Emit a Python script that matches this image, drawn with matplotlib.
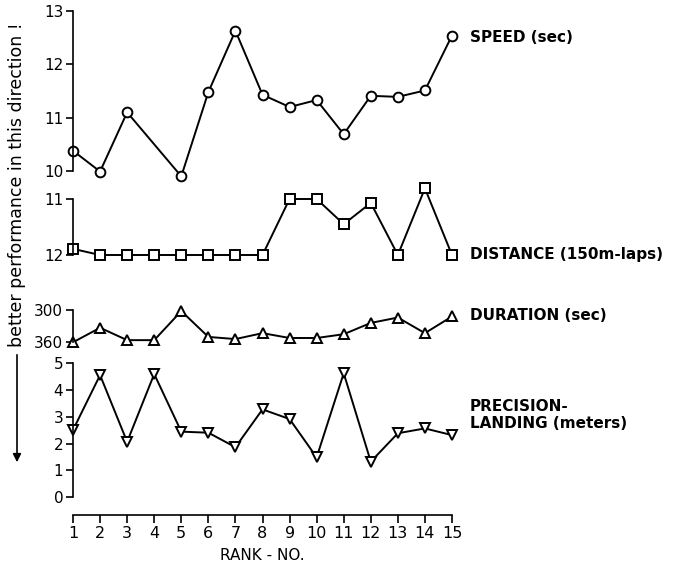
import numpy as np
import matplotlib
matplotlib.use("Agg")
import matplotlib.pyplot as plt

# ranks for each series
rank_speed = [1, 2, 3, 5, 6, 7, 8, 9, 10, 11, 12, 13, 14, 15]
speed = [10.38, 9.99, 11.1, 9.9, 11.48, 12.63, 11.43, 11.2, 11.33, 10.69, 11.41, 11.39, 11.51, 12.54]

rank_all = list(range(1, 16))
distance = [11.89, 12.0, 12.0, 12.0, 12.0, 12.0, 12.0, 12.0, 11.0, 11.0, 11.45, 11.07, 12.0, 10.81, 12.0]
duration = [360, 333, 356, 356, 302, 350, 354, 343, 352, 352, 345, 324, 314, 343, 312]
precision = [2.51, 4.56, 2.07, 4.6, 2.45, 2.41, 1.87, 3.28, 2.92, 1.49, 4.63, 1.33, 2.39, 2.57, 2.32]

W, H = 698, 565
fig = plt.figure(figsize=(W / 100, H / 100), dpi=100)
plt.rcParams["font.family"] = "DejaVu Sans"

x0, x1 = 73, 452


def panel(ytop, ybot, ylim, yticks, ticklabels):
    ax = fig.add_axes([x0 / W, 1 - ybot / H, (x1 - x0) / W, (ybot - ytop) / H])
    ax.set_xlim(1, 15)
    ax.set_ylim(*ylim)
    for s in ["top", "right", "bottom"]:
        ax.spines[s].set_visible(False)
    ax.spines["left"].set_linewidth(1.2)
    ax.set_xticks([])
    ax.set_yticks(yticks)
    ax.set_yticklabels(ticklabels, fontsize=11)
    ax.tick_params(axis="y", direction="out", length=5, width=1.2, pad=2)
    ax.patch.set_visible(False)
    return ax


ax1 = panel(11, 171, (10, 13), [10, 11, 12, 13], ["10", "11", "12", "13"])
ax1.plot(rank_speed, speed, "k-", marker="o", ms=7, mfc="white", mew=1.4, lw=1.4, clip_on=False)

ax2 = panel(199, 255, (12, 11), [11, 12], ["11", "12"])
ax2.plot(rank_all, distance, "k-", marker="s", ms=6.5, mfc="white", mew=1.4, lw=1.4, clip_on=False)

ax3 = panel(310, 342.3, (360, 300), [300, 360], ["300", "360"])
ax3.plot(rank_all, duration, "k-", marker="^", ms=7.5, mfc="white", mew=1.4, lw=1.4, clip_on=False)

ax4 = panel(363.3, 497.3, (0, 5), [0, 1, 2, 3, 4, 5], ["0", "1", "2", "3", "4", "5"])
ax4.plot(rank_all, precision, "k-", marker="v", ms=7.5, mfc="white", mew=1.4, lw=1.4, clip_on=False)

# x axis drawn on its own line below the panels
axx = fig.add_axes([x0 / W, 1 - 515 / H, (x1 - x0) / W, 0.001])
axx.set_xlim(1, 15)
for s in ["top", "right", "left"]:
    axx.spines[s].set_visible(False)
axx.spines["bottom"].set_linewidth(1.2)
axx.set_yticks([])
axx.set_xticks(rank_all)
axx.tick_params(axis="x", direction="out", length=6, width=1.2, pad=2, labelsize=11.5)
axx.set_xlabel("RANK - NO.", fontsize=11, labelpad=5)
axx.patch.set_visible(False)

# series names on the right
lab = dict(fontsize=11, fontweight="bold", va="center", ha="left")
fig.text(470 / W, 1 - 37 / H, "SPEED (sec)", **lab)
fig.text(470 / W, 1 - 255 / H, "DISTANCE (150m-laps)", **lab)
fig.text(470 / W, 1 - 316 / H, "DURATION (sec)", **lab)
fig.text(470 / W, 1 - 415 / H, "PRECISION-\nLANDING (meters)", linespacing=1.15, **lab)

# vertical label with arrow
fig.text(17 / W, 1 - 347 / H, "better performance in this direction !", fontsize=12.5,
         rotation=90, ha="center", va="bottom")
fig.add_artist(matplotlib.patches.FancyArrowPatch((17 / W, 1 - 352 / H), (17 / W, 1 - 465 / H),
                                                  transform=fig.transFigure, arrowstyle="-|>",
                                                  mutation_scale=12, lw=1.2, color="k"))

fig.savefig("out.png", dpi=100)
